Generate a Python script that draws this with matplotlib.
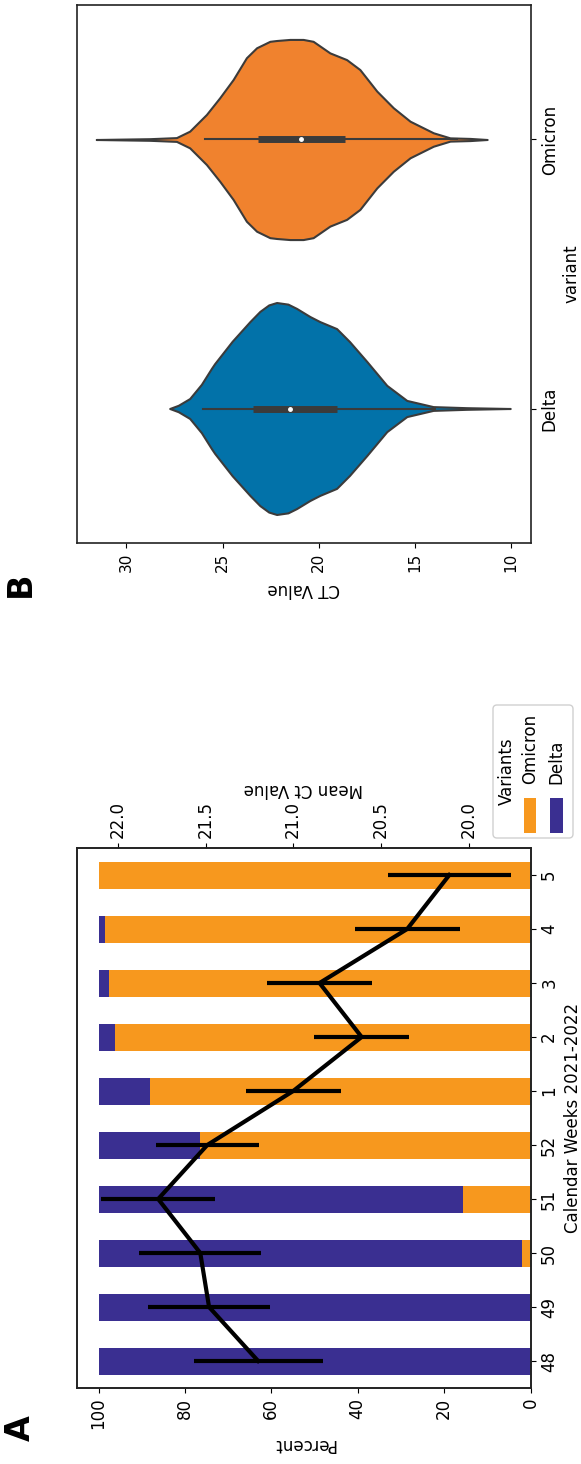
import matplotlib
matplotlib.use("Agg")
import matplotlib.pyplot as plt
from matplotlib.patches import FancyBboxPatch, Rectangle

plt.rcParams['font.family'] = ['DejaVu Sans']

# ---------------- Data: panel A ----------------
weeks = ['48', '49', '50', '51', '52', '1', '2', '3', '4', '5']
omicron_pct = [0.0, 0.0, 2.0, 15.6, 76.6, 88.0, 96.1, 97.6, 98.5, 100.0]
delta_pct = [100.0, 100.0, 98.0, 84.4, 23.4, 12.0, 3.9, 2.4, 1.5, 0.0]
mean_ct = [21.20, 21.48, 21.53, 21.77, 21.49, 21.00, 20.61, 20.85, 20.35, 20.11]
ct_err = [0.367, 0.348, 0.348, 0.325, 0.293, 0.27, 0.27, 0.30, 0.30, 0.35]
percent_ticks = [0, 20, 40, 60, 80, 100]
meanct_ticks = [20.0, 20.5, 21.0, 21.5, 22.0]

# ---------------- Data: panel B (violin outlines) ----------------
variants = ['Delta', 'Omicron']
delta_ct = [27.75, 27.3, 26.71, 26.1, 25.58, 25.41, 24.5, 23.58, 23.06, 22.6, 22.19,
            21.6, 21.15, 20.46, 19.94, 19.07, 18.40, 17.50, 16.46, 15.42, 14.05,
            12.30, 10.04]
delta_hw = [0.0, 0.012, 0.037, 0.09, 0.149, 0.167, 0.25, 0.323, 0.361, 0.385, 0.394,
            0.388, 0.372, 0.342, 0.323, 0.297, 0.249, 0.175, 0.086, 0.030, 0.007,
            0.003, 0.0]
omicron_ct = [31.57, 28.79, 27.40, 26.71, 25.84, 25.15, 24.45, 23.76, 23.23, 22.54,
              22.19, 21.5, 20.81, 20.29, 19.42, 18.55, 17.86, 16.98, 16.12, 15.25,
              14.04, 13.17, 12.13, 11.24]
omicron_hw = [0.0, 0.003, 0.007, 0.031, 0.093, 0.155, 0.223, 0.304, 0.341, 0.365,
              0.368, 0.372, 0.372, 0.365, 0.322, 0.297, 0.26, 0.18, 0.118, 0.068,
              0.025, 0.006, 0.004, 0.0]
whisker_lo = [13.95, 12.8]
whisker_hi = [26.02, 25.93]
q1 = [19.07, 18.64]
q3 = [23.41, 23.15]
median = [21.5, 20.94]
ct_ticks = [10, 15, 20, 25, 30]

C_OMI_BAR = '#F7981E'
C_DEL_BAR = '#3A2F91'
C_DEL_V = '#0272A9'
C_OMI_V = '#F0822E'
EDGE = '#3b3b3b'

W, H = 581, 1464
fig = plt.figure(figsize=(W / 100, H / 100), dpi=100)

def style_spines(ax):
    for s in ax.spines.values():
        s.set_linewidth(1.2)
        s.set_color('#222222')

# ---------------- Panel A (rotated) ----------------
axA = fig.add_axes([77 / W, 1 - 1388 / H, 453.5 / W, 540 / H])
pos = list(range(len(weeks)))
axA.barh(pos, omicron_pct, height=0.5, color=C_OMI_BAR, label='Omicron')
axA.barh(pos, delta_pct, height=0.5, left=omicron_pct, color=C_DEL_BAR, label='Delta')
axA.set_xlim(105, 0)
axA.set_ylim(-0.5, 9.5)
axA.set_xticks(percent_ticks)
axA.set_xticklabels([str(t) for t in percent_ticks], rotation=90, fontsize=12)
axA.set_yticks(pos)
axA.set_yticklabels(weeks, rotation=90, fontsize=12, va='center')
axA.yaxis.tick_right()
axA.yaxis.set_label_position('right')
axA.set_xlabel('Percent', rotation=180, fontsize=12, labelpad=4)
axA.set_ylabel('Calendar Weeks 2021-2022', rotation=90, fontsize=12, labelpad=4)
style_spines(axA)

ax2 = axA.twiny()
ax2.errorbar(mean_ct, pos, xerr=ct_err, color='black', lw=3, elinewidth=3, capsize=0)
ax2.set_xlim(22.233, 19.647)
ax2.set_xticks(meanct_ticks)
ax2.set_xticklabels([f'{t:.1f}' for t in meanct_ticks], rotation=90, fontsize=12)
ax2.set_xlabel('Mean Ct Value', rotation=180, fontsize=12, labelpad=5)
style_spines(ax2)

# ---------------- Panel B (rotated violins) ----------------
axB = fig.add_axes([77 / W, 1 - 543 / H, 454 / W, 538 / H])
outlines = [(delta_ct, delta_hw, C_DEL_V), (omicron_ct, omicron_hw, C_OMI_V)]
for i, (ct, hw, col) in enumerate(outlines):
    lo = [i - h for h in hw]
    hi = [i + h for h in hw]
    axB.fill_between(ct, lo, hi, facecolor=col, edgecolor=EDGE, linewidth=1.5, zorder=2)
    axB.plot([whisker_lo[i], whisker_hi[i]], [i, i], color=EDGE, lw=1.5, zorder=3)
    axB.plot([q1[i], q3[i]], [i, i], color=EDGE, lw=5, solid_capstyle='butt', zorder=3)
    axB.plot([median[i]], [i], 'o', color='white', ms=2.5, zorder=4)
axB.set_xlim(32.57, 8.96)
axB.set_ylim(-0.5, 1.5)
axB.set_xticks(ct_ticks)
axB.set_xticklabels([str(t) for t in ct_ticks], rotation=90, fontsize=11)
axB.set_yticks([0, 1])
axB.set_yticklabels(variants, rotation=90, fontsize=12, va='center')
axB.yaxis.tick_right()
axB.yaxis.set_label_position('right')
axB.set_xlabel('CT Value', rotation=180, fontsize=12, labelpad=6)
axB.set_ylabel('variant', rotation=90, fontsize=12, labelpad=3)
style_spines(axB)

# ---------------- Overlay: legend and panel letters (pixel coordinates) ----------------
ov = fig.add_axes([0, 0, 1, 1], zorder=10)
ov.set_xlim(0, W)
ov.set_ylim(H, 0)
ov.axis('off')
ov.patch.set_alpha(0)

ov.add_patch(FancyBboxPatch((493, 705), 80, 133, boxstyle='round,pad=0,rounding_size=4',
                            facecolor='white', edgecolor='#d0d0d0', linewidth=1.0))
ov.text(507, 771, 'Variants', rotation=90, fontsize=12, ha='center', va='center')
ov.add_patch(Rectangle((524, 798), 12, 35, facecolor=C_OMI_BAR, edgecolor='none'))
ov.text(530, 784, 'Omicron', rotation=90, fontsize=12, ha='center', va='bottom')
ov.add_patch(Rectangle((550, 798), 13, 35, facecolor=C_DEL_BAR, edgecolor='none'))
ov.text(556.5, 784, 'Delta', rotation=90, fontsize=12, ha='center', va='bottom')

ov.text(20, 1428, 'A', rotation=90, fontsize=24, fontweight='bold', ha='center', va='center')
ov.text(20, 584, 'B', rotation=90, fontsize=24, fontweight='bold', ha='center', va='center')

fig.savefig('out.png', dpi=100)
